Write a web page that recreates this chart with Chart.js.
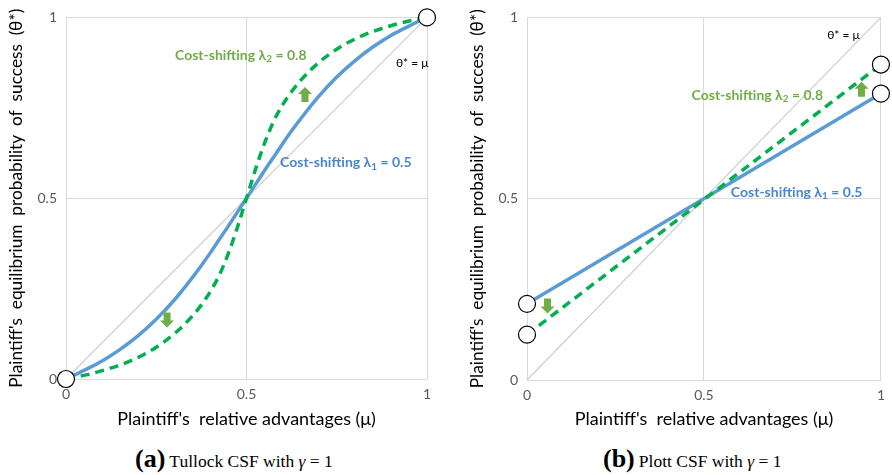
<!DOCTYPE html>
<html>
<head>
<meta charset="utf-8">
<script src="https://cdn.jsdelivr.net/npm/chart.js@4.4.1/dist/chart.umd.min.js"></script>
<style>
  html, body { margin:0; padding:0; background:#fff; width:892px; height:475px; overflow:hidden; }
  .wrap { position:absolute; top:0; height:440px; }
  .cap { position:absolute; top:444px; line-height:30px; height:30px; font-family:"Liberation Serif","Times New Roman",serif; color:#000; white-space:nowrap; }
  .cap b { font-size:26px; font-weight:bold; }
  .cap span { font-size:17.5px; }
</style>
</head>
<body>
<div class="wrap" style="left:0;width:450px;"><canvas id="c1" width="450" height="440"></canvas></div>
<div class="wrap" style="left:450px;width:442px;"><canvas id="c2" width="442" height="440"></canvas></div>
<div class="cap" style="left:135px;"><b>(a)</b> <span>Tullock CSF with <i>γ</i> = 1</span></div>
<div class="cap" style="left:603px;"><b>(b)</b> <span>Plott CSF with <i>γ</i> = 1</span></div>
<script>
// ---- Data ----
const tickValues = [0, 0.5, 1];
const diagMu = [0, 1];
const diagTheta = [0, 1];

// Panel (a) Tullock CSF
const tullockMu    = [0,0.05,0.1,0.15,0.2,0.25,0.3,0.35,0.375,0.4,0.425,0.45,0.475,0.5,0.525,0.55,0.575,0.6,0.625,0.65,0.7,0.75,0.8,0.85,0.9,0.95,1];
const tullockBlue  = [0,0.024,0.05,0.082,0.12,0.165,0.2185,0.2805,0.314,0.3495,0.3865,0.4235,0.4618,0.5,0.5382,0.5765,0.6135,0.6505,0.6865,0.7195,0.7815,0.835,0.88,0.918,0.95,0.976,1];
const tullockGreen = [0,0.01,0.023,0.039,0.06,0.088,0.125,0.174,0.205,0.242,0.288,0.348,0.42,0.5,0.58,0.652,0.712,0.758,0.795,0.826,0.875,0.912,0.94,0.961,0.977,0.99,1];
const tullockCircleMu    = [0, 1];
const tullockCircleTheta = [0, 1];

// Panel (b) Plott CSF
const plottMu    = [0, 1];
const plottBlue  = [0.21, 0.79];
const plottGreen = [0.125, 0.87];
const plottCircleMu    = [0, 0, 1, 1];
const plottCircleTheta = [0.21, 0.125, 0.79, 0.87];

// annotations (data coordinates)
const tullockArrows = [{x:0.662, y:0.788, dir:'up'}, {x:0.28, y:0.162, dir:'down'}];
const plottArrows   = [{x:0.058, y:0.203, dir:'down'}, {x:0.945, y:0.803, dir:'up'}];
const tullockLabels = [
  {x:0.302, y:0.896, main:'Cost-shifting λ', sub:'2', rest:' = 0.8', color:'#70AD47'},
  {x:0.593, y:0.599, main:'Cost-shifting λ', sub:'1', rest:' = 0.5', color:'#4A86CE'}
];
const plottLabels = [
  {x:0.465, y:0.786, main:'Cost-shifting λ', sub:'2', rest:' = 0.8', color:'#70AD47'},
  {x:0.576, y:0.518, main:'Cost-shifting λ', sub:'1', rest:' = 0.5', color:'#4A86CE'}
];
const tullockDiagLabel = {x:0.914, y:0.874, text:'θ* = μ'};
const plottDiagLabel   = {x:0.848, y:0.951, text:'θ* = μ'};

const xTitle = "Plaintiff's  relative advantages (μ)";
const yTitle = "Plaintiff's  equilibrium  probability  of  success  (θ*)";

// ---- helpers ----
const zip = (xs, ys) => xs.map((x, i) => ({x, y: ys[i]}));
const FONT = "Lato, 'Open Sans', sans-serif";

function annotPlugin(labels, arrows, diag) {
  return {
    id: 'annot',
    afterDatasetsDraw(chart) {
      const {ctx, scales:{x, y}} = chart;
      ctx.save();
      ctx.font = "12px " + FONT;
      ctx.fillStyle = '#000';
      ctx.textBaseline = 'middle';
      ctx.textAlign = 'left';
      ctx.fillText(diag.text, x.getPixelForValue(diag.x), y.getPixelForValue(diag.y));
      labels.forEach(l => {
        let px = x.getPixelForValue(l.x), py = y.getPixelForValue(l.y);
        ctx.fillStyle = l.color;
        ctx.font = "bold 14px " + FONT;
        ctx.fillText(l.main, px, py);
        px += ctx.measureText(l.main).width;
        ctx.font = "bold 10px " + FONT;
        ctx.fillText(l.sub, px, py + 4);
        px += ctx.measureText(l.sub).width;
        ctx.font = "bold 14px " + FONT;
        ctx.fillText(l.rest, px, py);
      });
      ctx.fillStyle = '#70AD47';
      arrows.forEach(a => {
        const cx = x.getPixelForValue(a.x), cy = y.getPixelForValue(a.y);
        const s = a.dir === 'up' ? -1 : 1;
        const hw = 7, sw = 3.5, h = 8, head = 7;
        ctx.beginPath();
        ctx.moveTo(cx - sw, cy - s*h);
        ctx.lineTo(cx + sw, cy - s*h);
        ctx.lineTo(cx + sw, cy);
        ctx.lineTo(cx + hw, cy);
        ctx.lineTo(cx, cy + s*head);
        ctx.lineTo(cx - hw, cy);
        ctx.lineTo(cx - sw, cy);
        ctx.closePath();
        ctx.fill();
      });
      ctx.restore();
    }
  };
}

function makeChart(id, cfg) {
  const datasets = [
    { data: zip(diagMu, diagTheta), borderColor:'#D0D0D0', borderWidth:1.3, pointRadius:0, order:4 },
    { data: zip(cfg.mu, cfg.blue), borderColor:'#5B9BD5', borderWidth:3.5, pointRadius:0, cubicInterpolationMode:'monotone', order:3 },
    { data: zip(cfg.mu, cfg.green), borderColor:'#00B050', borderWidth:3.5, borderDash:[9,6], pointRadius:0, cubicInterpolationMode:'monotone', order:2 },
    { data: zip(cfg.cmu, cfg.ctheta), showLine:false, pointRadius:8.5, pointBackgroundColor:'#fff', pointBorderColor:'#000', pointBorderWidth:1.2, order:1 }
  ];
  return new Chart(document.getElementById(id), {
    type: 'line',
    data: { datasets },
    options: {
      responsive:false, animation:false, clip:false,
      layout: { padding: { top:15, right:cfg.padRight, bottom:0, left:0 } },
      plugins: { legend:{display:false}, tooltip:{enabled:false} },
      scales: {
        x: {
          type:'linear', min:0, max:1,
          afterBuildTicks: s => { s.ticks = tickValues.map(v => ({value:v})); },
          afterFit: s => { s.height = cfg.xHeight; },
          ticks: { color:'#595959', font:{family:FONT, size:14}, padding:7, callback: v => String(v) },
          grid: { color:'#D9D9D9', lineWidth:1, drawTicks:false },
          border: { display:false },
          title: { display:true, text:xTitle, color:'#000', font:{family:FONT, size:18}, padding:{top:0, bottom:10} }
        },
        y: {
          type:'linear', min:0, max:1,
          afterBuildTicks: s => { s.ticks = tickValues.map(v => ({value:v})); },
          afterFit: s => { s.width = cfg.yWidth; },
          ticks: { color:'#595959', font:{family:FONT, size:14}, padding:9, callback: v => String(v) },
          grid: { color:'#D9D9D9', lineWidth:1, drawTicks:false },
          border: { display:false },
          title: { display:true, text:yTitle, color:'#000', font:{family:FONT, size:17.3}, padding:{top:cfg.yTitlePad, bottom:0} }
        }
      }
    },
    plugins: [annotPlugin(cfg.labels, cfg.arrows, cfg.diag)]
  });
}

makeChart('c1', { mu:tullockMu, blue:tullockBlue, green:tullockGreen, cmu:tullockCircleMu, ctheta:tullockCircleTheta,
  padRight:23, xHeight:61, yWidth:66, yTitlePad:6, labels:tullockLabels, arrows:tullockArrows, diag:tullockDiagLabel });
makeChart('c2', { mu:plottMu, blue:plottBlue, green:plottGreen, cmu:plottCircleMu, ctheta:plottCircleTheta,
  padRight:4, xHeight:60, yWidth:77, yTitlePad:17, labels:plottLabels, arrows:plottArrows, diag:plottDiagLabel });
</script>
</body>
</html>
